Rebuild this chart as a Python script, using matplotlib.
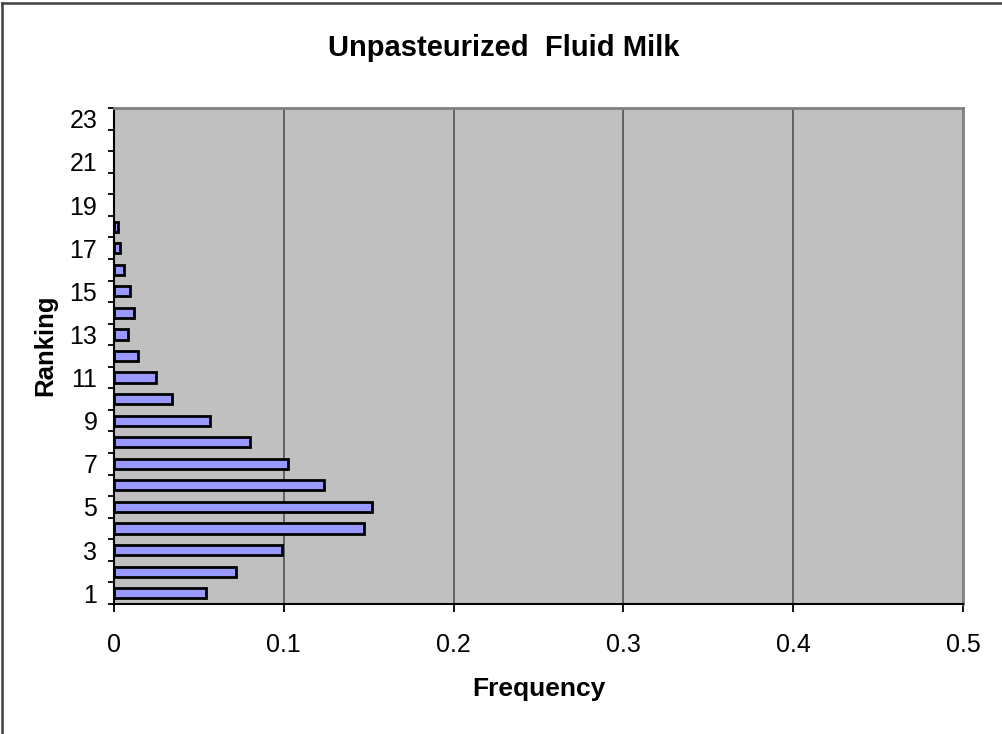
import numpy as np
import matplotlib.pyplot as plt
from matplotlib.lines import Line2D

plt.rcParams['font.family'] = ['Liberation Sans', 'DejaVu Sans']

# ranking 1..23, frequency
ranking = list(range(1, 24))
frequency = [0.054, 0.072, 0.099, 0.147, 0.152, 0.1235, 0.1025, 0.080, 0.0565,
             0.034, 0.0247, 0.014, 0.008, 0.0118, 0.0094, 0.0059, 0.0035, 0.0024,
             0, 0, 0, 0, 0]
x_ticks = [0, 0.1, 0.2, 0.3, 0.4, 0.5]
x_labels = ['0', '0.1', '0.2', '0.3', '0.4', '0.5']

W, H = 1003, 734
fig = plt.figure(figsize=(W / 100, H / 100), dpi=100)
ax = fig.add_axes([114 / W, 1 - 604 / H, (963 - 114) / W, (604 - 108) / H])
ax.set_facecolor('#C0C0C0')

# zero-height bars get no outline, as in the original
edge_w = [2.0 if f > 0 else 0 for f in frequency]
ax.barh(ranking, frequency, height=0.47, color='#9999FF', edgecolor='black',
        linewidth=edge_w, zorder=3)

ax.set_xlim(0, 0.5)
ax.set_ylim(0.5, 23.5)

for x in x_ticks[1:-1]:
    ax.axvline(x, color='#484848', lw=1.1, zorder=1)

ax.set_xticks(x_ticks)
ax.set_xticklabels(x_labels, fontsize=18)
ax.tick_params(axis='x', direction='out', length=6, width=1.3, pad=15)

ax.set_yticks(ranking[::2])
ax.set_yticklabels([str(r) for r in ranking[::2]], fontsize=18)
ax.set_yticks(np.arange(0.5, 24, 1), minor=True)
ax.tick_params(axis='y', which='major', length=0, pad=12)
ax.tick_params(axis='y', which='minor', direction='out', length=4.5, width=1.3)

for s in ['left', 'bottom']:
    ax.spines[s].set_color('black')
    ax.spines[s].set_linewidth(1.5)
for s in ['top', 'right']:
    ax.spines[s].set_color('#808080')
    ax.spines[s].set_linewidth(2)

fig.text(504 / W, 1 - 48 / H, 'Unpasteurized  Fluid Milk', fontsize=21,
         fontweight='bold', ha='center', va='center')
fig.text(539 / W, 1 - 689 / H, 'Frequency', fontsize=19, fontweight='bold',
         ha='center', va='center')
fig.text(45 / W, 1 - 345 / H, 'Ranking', fontsize=18.5, fontweight='bold',
         ha='center', va='center', rotation=90)

# outer chart border (left and top edges only visible)
fig.add_artist(Line2D([2.5 / W, 2.5 / W], [0, 1 - 3 / H], color='#404040', lw=1.8))
fig.add_artist(Line2D([2.5 / W, 1], [1 - 3 / H, 1 - 3 / H], color='#404040', lw=1.8))

fig.savefig('out.png', dpi=100)
